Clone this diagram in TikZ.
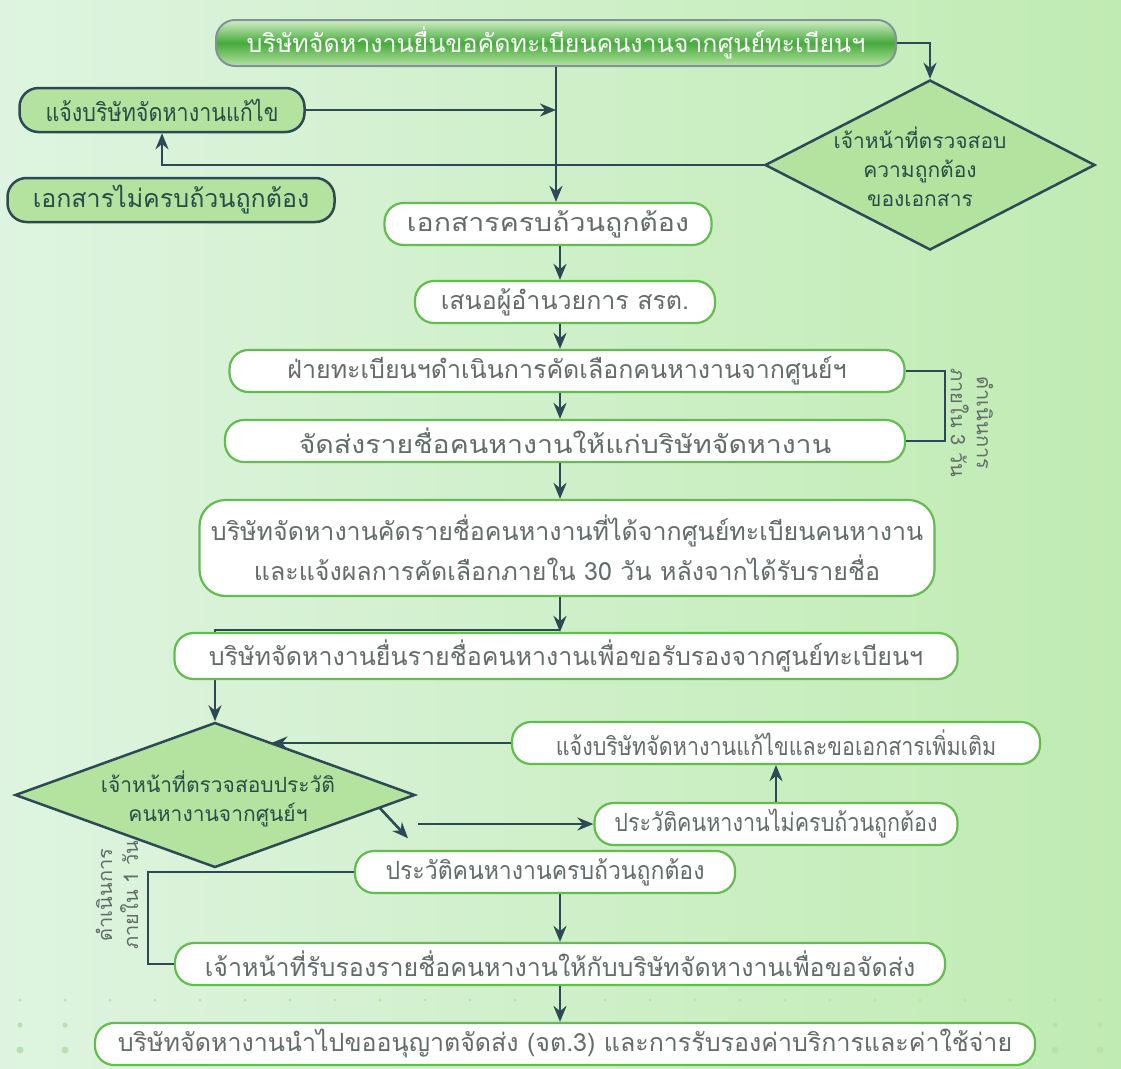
\documentclass[tikz,border=0pt]{standalone}
\usepackage{fontspec}
\newfontfamily\thai[Script=Thai]{Loma}
\newfontfamily\thaiN[Script=Thai,FakeStretch=0.86]{Loma}
\newfontfamily\thaiM[Script=Thai,FakeStretch=0.92]{Loma}
\newfontfamily\thaiW[Script=Thai,FakeStretch=1.14]{Loma}
\usetikzlibrary{arrows.meta,shapes.geometric,calc,backgrounds}
\definecolor{bgA}{RGB}{222,244,224}
\definecolor{bgB}{RGB}{192,235,178}
\definecolor{dk}{RGB}{44,74,86}
\definecolor{grn}{RGB}{98,188,78}
\definecolor{dgrn}{RGB}{70,170,60}
\definecolor{lgrn}{RGB}{180,227,160}
\definecolor{txtg}{RGB}{98,108,104}
\definecolor{txtd}{RGB}{38,78,72}
\tikzset{
  base/.style={rounded corners=19pt, inner sep=0pt, align=center,
    font=\thai\fontsize{25}{40}\selectfont},
  narrowtxt/.style={font=\thaiN\fontsize{25}{40}\selectfont},
  midtxt/.style={font=\thaiM\fontsize{25}{40}\selectfont},
  widetxt/.style={font=\thaiW\fontsize{25}{40}\selectfont},
  wbox/.style={base, draw=grn, line width=2.2pt, fill=white, text=txtg, minimum height=42pt},
  gbox/.style={base, draw=dk, line width=2.5pt, fill=lgrn, text=txtd, minimum height=44pt},
  topbox/.style={base, draw=dk!60, line width=2pt, top color=lgrn!60!white, bottom color=lgrn, middle color=dgrn,
    text=white, minimum height=46pt},
  dia/.style={diamond, draw=dk, line width=2.5pt, fill=lgrn, inner sep=0pt},
  dtext/.style={align=center, text=txtd, font=\thai\fontsize{21}{29}\selectfont},
  side/.style={align=center, text=txtg, font=\thai\fontsize{20}{26}\selectfont},
  conn/.style={draw=dk, line width=2.6pt},
  arr/.style={conn, -{Stealth[length=16pt,width=13pt]}}
}
\begin{document}
\begin{tikzpicture}[x=1pt,y=-1pt]
\begin{scope}[on background layer]
\shade[left color=bgA, right color=bgB] (0,0) rectangle (1121,1068);
\foreach \yy/\rr in {1000/1.5,1025/2.5,1050/3.5}{
  \foreach \xx in {20,65,...,1120}{\fill[grn!45] (\xx,\yy) circle (\rr);}}
\end{scope}
\useasboundingbox (0,0) rectangle (1121,1068);
\coordinate (ax) at (560,0);
\coordinate (rb) at (945,0);
\coordinate (lb) at (148,0);

% nodes
\node[topbox, minimum width=680pt] (top) at (556,43) {บริษัทจัดหางานยื่นขอคัดทะเบียนคนงานจากศูนย์ทะเบียนฯ};
\node[gbox, narrowtxt, minimum width=285pt] (A) at (162,110) {แจ้งบริษัทจัดหางานแก้ไข};
\node[gbox, minimum width=327pt] (B) at (171,200) {เอกสารไม่ครบถ้วนถูกต้อง};
\node[dia, minimum width=330pt, minimum height=170pt] (D1) at (930,165) {};
\node[dtext] (D1t) at (920,167) {เจ้าหน้าที่ตรวจสอบ\\ความถูกต้อง\\ของเอกสาร};
\node[wbox, widetxt, minimum width=327pt] (C) at (548,224) {เอกสารครบถ้วนถูกต้อง};
\node[wbox, minimum width=300pt] (E) at (565,302) {เสนอผู้อำนวยการ สรต.};
\node[wbox, minimum width=675pt] (F) at (567,371) {ฝ่ายทะเบียนฯดำเนินการคัดเลือกคนหางานจากศูนย์ฯ};
\node[wbox, widetxt, minimum width=680pt] (G) at (565,441) {จัดส่งรายชื่อคนหางานให้แก่บริษัทจัดหางาน};
\node[wbox, minimum width=735pt, minimum height=96pt, rounded corners=26pt] (H) at (567,548)
  {บริษัทจัดหางานคัดรายชื่อคนหางานที่ได้จากศูนย์ทะเบียนคนหางาน\\และแจ้งผลการคัดเลือกภายใน 30 วัน หลังจากได้รับรายชื่อ};
\node[dia, minimum width=400pt, minimum height=145pt] (D2) at (215,795) {};
\node[dtext] (D2t) at (218,799) {เจ้าหน้าที่ตรวจสอบประวัติ\\คนหางานจากศูนย์ฯ};
\node[wbox, narrowtxt, minimum width=528pt] (J) at (776,743) {แจ้งบริษัทจัดหางานแก้ไขและขอเอกสารเพิ่มเติม};
\node[wbox, narrowtxt, minimum width=363pt] (K) at (776,824) {ประวัติคนหางานไม่ครบถ้วนถูกต้อง};
\node[wbox, midtxt, minimum width=380pt] (L) at (545,872) {ประวัติคนหางานครบถ้วนถูกต้อง};
\node[wbox, minimum width=770pt] (M) at (560,964) {เจ้าหน้าที่รับรองรายชื่อคนหางานให้กับบริษัทจัดหางานเพื่อขอจัดส่ง};
\node[wbox, minimum width=940pt] (N) at (565,1044) {บริษัทจัดหางานนำไปขออนุญาตจัดส่ง (จต.3) และการรับรองค่าบริการและค่าใช้จ่าย};
\node[side, rotate=-90] (lab3) at (972,423) {ดำเนินการ\\ภายใน 3 วัน};
\node[side, rotate=90] (lab1) at (117,895) {ดำเนินการ\\ภายใน 1 วัน};

% connector hidden behind box I
\coordinate (iturn) at ($(ax |- H.south)+(0,33)$);
\begin{scope}[on background layer]
\draw[arr] (iturn) -| (D2.north);
\end{scope}
\node[wbox, minimum width=783pt, minimum height=46pt] (I) at (566,656) {บริษัทจัดหางานยื่นรายชื่อคนหางานเพื่อขอรับรองจากศูนย์ทะเบียนฯ};

% connectors
\draw[arr] (top.south) -- (top.south |- C.north);
\draw[arr] (A.east) -- (A.east -| top.south);
\draw[arr] (D1.west) -| (A.south);
\draw[arr] (top.east) -| (D1.north);
\draw[arr] (C.south -| ax) -- (E.north -| ax);
\draw[arr] (E.south -| ax) -- (F.north -| ax);
\draw[arr] (F.south -| ax) -- (G.north -| ax);
\draw[arr] (G.south -| ax) -- (H.north -| ax);
\draw[arr] (H.south -| ax) -- (I.north -| ax);
\draw[conn] (F.east) -- (F.east -| rb) -- (G.east -| rb) -- (G.east);
\coordinate (d2ne) at ($(D2.north)!0.28!(D2.east)$);
\draw[arr] (J.west) -- (J.west -| d2ne);
\coordinate (kst) at ($(D2.east)+(2,29)$);
\draw[arr] (kst) -- (kst -| K.west);
\coordinate (dgs) at ($(D2.east)!0.18!(D2.south)$);
\coordinate (dge) at ($(dgs)+(28,30)$);
\draw[arr] (dgs) -- (dge);
\draw[arr] (K.north) -- (K.north |- J.south);
\draw[arr] (L.south -| ax) -- (M.north -| ax);
\draw[arr] (M.south -| ax) -- (N.north -| ax);
\draw[conn] (L.west) -- (L.west -| lb) -- (M.west -| lb) -- (M.west);
\end{tikzpicture}
\end{document}
